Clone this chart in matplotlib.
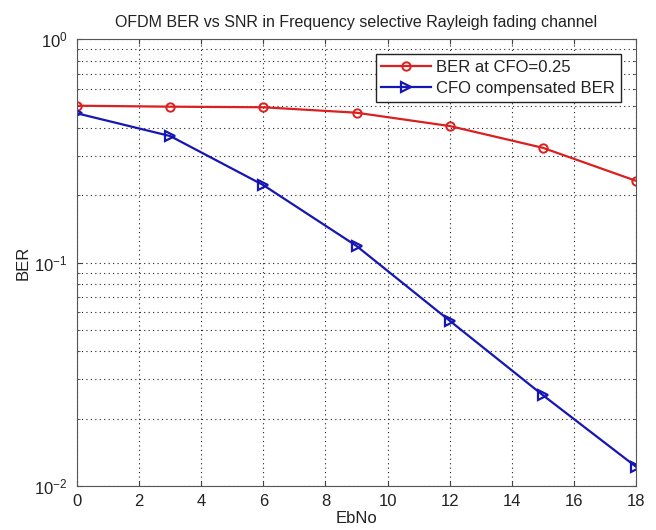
import numpy as np
import matplotlib
matplotlib.use('Agg')
import matplotlib.pyplot as plt
from matplotlib.ticker import LogLocator, NullFormatter

plt.rcParams['font.family'] = ['Liberation Sans', 'DejaVu Sans']
plt.rcParams['mathtext.fontset'] = 'custom'
plt.rcParams['mathtext.rm'] = 'Liberation Sans'
plt.rcParams['mathtext.it'] = 'Liberation Sans'

ebno = np.array([0, 3, 6, 9, 12, 15, 18])
ber_cfo = np.array([0.503, 0.498, 0.495, 0.468, 0.408, 0.326, 0.232])
ber_comp = np.array([0.465, 0.368, 0.222, 0.1186, 0.0549, 0.0255, 0.0122])

fig = plt.figure(figsize=(6.56, 5.30), dpi=100)
ax = fig.add_axes([0.1174, 0.083, 0.8521, 0.8434])

ax.semilogy(ebno, ber_cfo, '-o', color='#dc1f1f', lw=1.6, ms=6,
            mfc='none', mew=1.4, label='BER at CFO=0.25')
ax.semilogy(ebno, ber_comp, '->', color='#1616b4', lw=1.6, ms=7,
            mfc='none', mew=1.6, label='CFO compensated BER')

ax.set_xlim(0, 18)
ax.set_ylim(1e-2, 1e0)
ax.set_xticks(np.arange(0, 19, 2))
ax.yaxis.set_major_locator(LogLocator(base=10))
ax.yaxis.set_minor_locator(LogLocator(base=10, subs=np.arange(2, 10)))
ax.yaxis.set_minor_formatter(NullFormatter())

dots = (0, (1, 3))
ax.grid(True, which='major', ls=dots, color='#222222', lw=0.8)
ax.grid(True, which='minor', axis='y', ls=dots, color='#222222', lw=0.8)
ax.tick_params(which='both', direction='in', top=True, right=True,
               labelsize=12, colors='#444444')
ax.tick_params(labelcolor='#222222')
ax.tick_params(axis='x', pad=6)
ax.tick_params(axis='y', pad=7)
for s in ax.spines.values():
    s.set_color('#555555')

ax.set_title('OFDM BER vs SNR in Frequency selective Rayleigh fading channel',
             fontsize=11.5, pad=9, color='#222222')
ax.set_xlabel('EbNo', fontsize=12, labelpad=1, color='#222222')
ax.set_ylabel('BER', fontsize=12, labelpad=2, color='#222222')

leg = ax.legend(loc='upper right', fontsize=12, fancybox=False,
                edgecolor='#222222', framealpha=1, handlelength=3.0,
                handletextpad=0.3, borderaxespad=0.9, borderpad=0.35,
                labelspacing=0.35)
leg.get_frame().set_linewidth(1.0)
for t in leg.get_texts():
    t.set_color('#222222')

fig.savefig('out.png', dpi=100)
